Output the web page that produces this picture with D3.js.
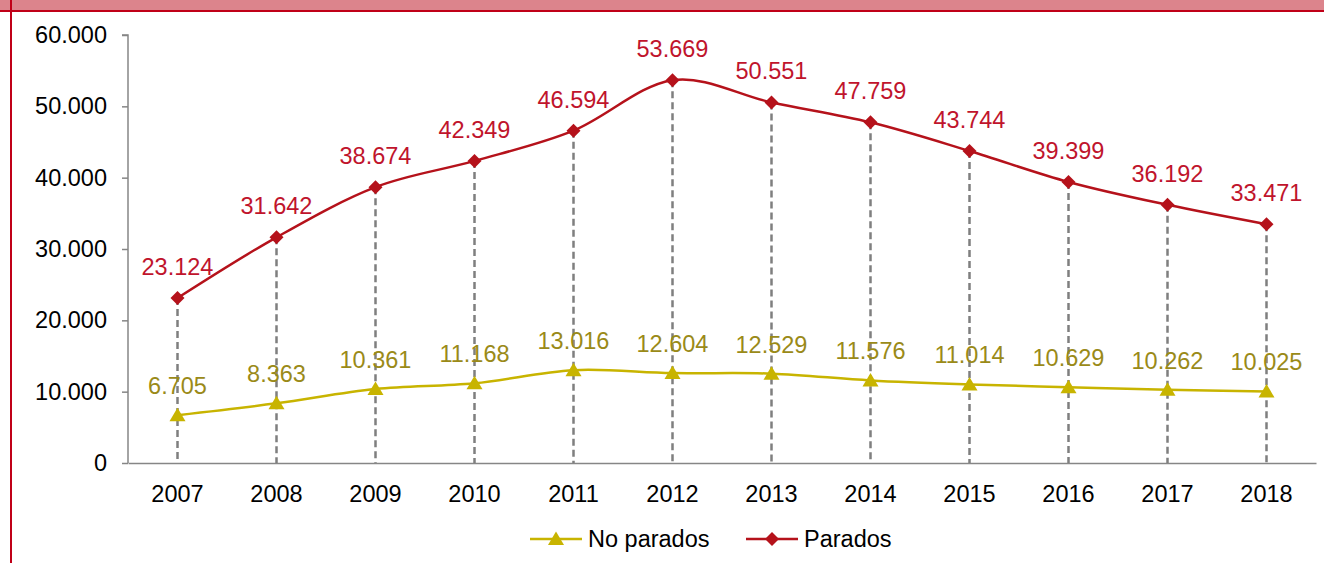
<!DOCTYPE html>
<html>
<head>
<meta charset="utf-8">
<script src="https://cdn.jsdelivr.net/npm/d3@7"></script>
<style>
  body { margin: 0; background: #fff; }
  svg { display: block; font-family: "Liberation Sans", Arial, sans-serif; }
</style>
</head>
<body>
<script>
const years = ["2007", "2008", "2009", "2010", "2011", "2012", "2013", "2014", "2015", "2016", "2017", "2018"];
const parados = [23124, 31642, 38674, 42349, 46594, 53669, 50551, 47759, 43744, 39399, 36192, 33471];
const noParados = [6705, 8363, 10361, 11168, 13016, 12604, 12529, 11576, 11014, 10629, 10262, 10025];
const yTicks = [0, 10000, 20000, 30000, 40000, 50000, 60000];
const seriesNames = ["No parados", "Parados"];

const width = 1324, height = 563;
const redLine = "#B5121B", redText = "#C0142C";
const goldLine = "#C8B400", goldText = "#9A8A18";
const axisGrey = "#868686";
const fs = 23.5;

const fmt = d => d3.format(",")(d).replace(/,/g, ".");

const svg = d3.select("body").append("svg")
  .attr("width", width)
  .attr("height", height);

// frame: header band and left border
svg.append("rect").attr("x", 0).attr("y", 0).attr("width", width).attr("height", 10).attr("fill", "#DC848C");
svg.append("rect").attr("x", 0).attr("y", 10).attr("width", width).attr("height", 2).attr("fill", "#C00018");
svg.append("rect").attr("x", 10).attr("y", 0).attr("width", 2).attr("height", height).attr("fill", "#C00018");

const x = d3.scaleBand().domain(years).range([128, 1316]);
const y = d3.scaleLinear().domain([0, 60000]).range([463, 35]);
const cx = d => x(d) + x.bandwidth() / 2;

// y axis
const yAxis = svg.append("g")
  .attr("transform", "translate(128,0)")
  .call(d3.axisLeft(y).tickValues(yTicks).tickSize(6).tickPadding(15).tickFormat(fmt));
yAxis.select(".domain").attr("stroke", axisGrey).attr("stroke-width", 1.5).attr("d", "M-6,35H0V463");
yAxis.selectAll(".tick line").attr("stroke", axisGrey).attr("stroke-width", 1.5);
yAxis.selectAll(".tick text").attr("font-size", fs).attr("fill", "#000");

// x axis
const xAxis = svg.append("g")
  .attr("transform", "translate(0,463)")
  .call(d3.axisBottom(x).tickSize(0).tickPadding(22));
xAxis.select(".domain").attr("stroke", axisGrey).attr("stroke-width", 1.5);
xAxis.selectAll(".tick text").attr("font-size", fs).attr("fill", "#000");

// drop lines
svg.append("g").selectAll("line")
  .data(years)
  .join("line")
  .attr("x1", d => cx(d))
  .attr("x2", d => cx(d))
  .attr("y1", (d, i) => y(parados[i]))
  .attr("y2", y(0))
  .attr("stroke", "#7F7F7F")
  .attr("stroke-width", 2.5)
  .attr("stroke-dasharray", "7,4");

const line = d3.line()
  .x((d, i) => cx(years[i]))
  .y(d => y(d))
  .curve(d3.curveCatmullRom.alpha(0));

svg.append("path").datum(noParados)
  .attr("d", line).attr("fill", "none")
  .attr("stroke", goldLine).attr("stroke-width", 2.5);

svg.append("path").datum(parados)
  .attr("d", line).attr("fill", "none")
  .attr("stroke", redLine).attr("stroke-width", 2.5);

const tri = "M0,-7.5L8,6L-8,6Z";
const dia = "M0,-7L7,0L0,7L-7,0Z";

svg.append("g").selectAll("path")
  .data(noParados)
  .join("path")
  .attr("d", tri)
  .attr("transform", (d, i) => `translate(${cx(years[i])},${y(d)})`)
  .attr("fill", goldLine);

svg.append("g").selectAll("path")
  .data(parados)
  .join("path")
  .attr("d", dia)
  .attr("transform", (d, i) => `translate(${cx(years[i])},${y(d)})`)
  .attr("fill", redLine);

// data labels
svg.append("g").selectAll("text")
  .data(noParados)
  .join("text")
  .attr("x", (d, i) => cx(years[i]))
  .attr("y", d => y(d) - 21)
  .attr("text-anchor", "middle")
  .attr("font-size", fs)
  .attr("fill", goldText)
  .text(fmt);

svg.append("g").selectAll("text")
  .data(parados)
  .join("text")
  .attr("x", (d, i) => cx(years[i]))
  .attr("y", d => y(d) - 23)
  .attr("text-anchor", "middle")
  .attr("font-size", fs)
  .attr("fill", redText)
  .text(fmt);

// legend
const legend = svg.append("g");
const legendItems = [
  {name: seriesNames[0], x0: 530, color: goldLine, shape: tri},
  {name: seriesNames[1], x0: 746, color: redLine, shape: dia}
];
legendItems.forEach(it => {
  legend.append("line")
    .attr("x1", it.x0).attr("x2", it.x0 + 52)
    .attr("y1", 539).attr("y2", 539)
    .attr("stroke", it.color).attr("stroke-width", 2.5);
  legend.append("path")
    .attr("d", it.shape)
    .attr("transform", `translate(${it.x0 + 26},539)`)
    .attr("fill", it.color);
  legend.append("text")
    .attr("x", it.x0 + 58).attr("y", 547)
    .attr("font-size", fs)
    .attr("fill", "#000")
    .text(it.name);
});
</script>
</body>
</html>
